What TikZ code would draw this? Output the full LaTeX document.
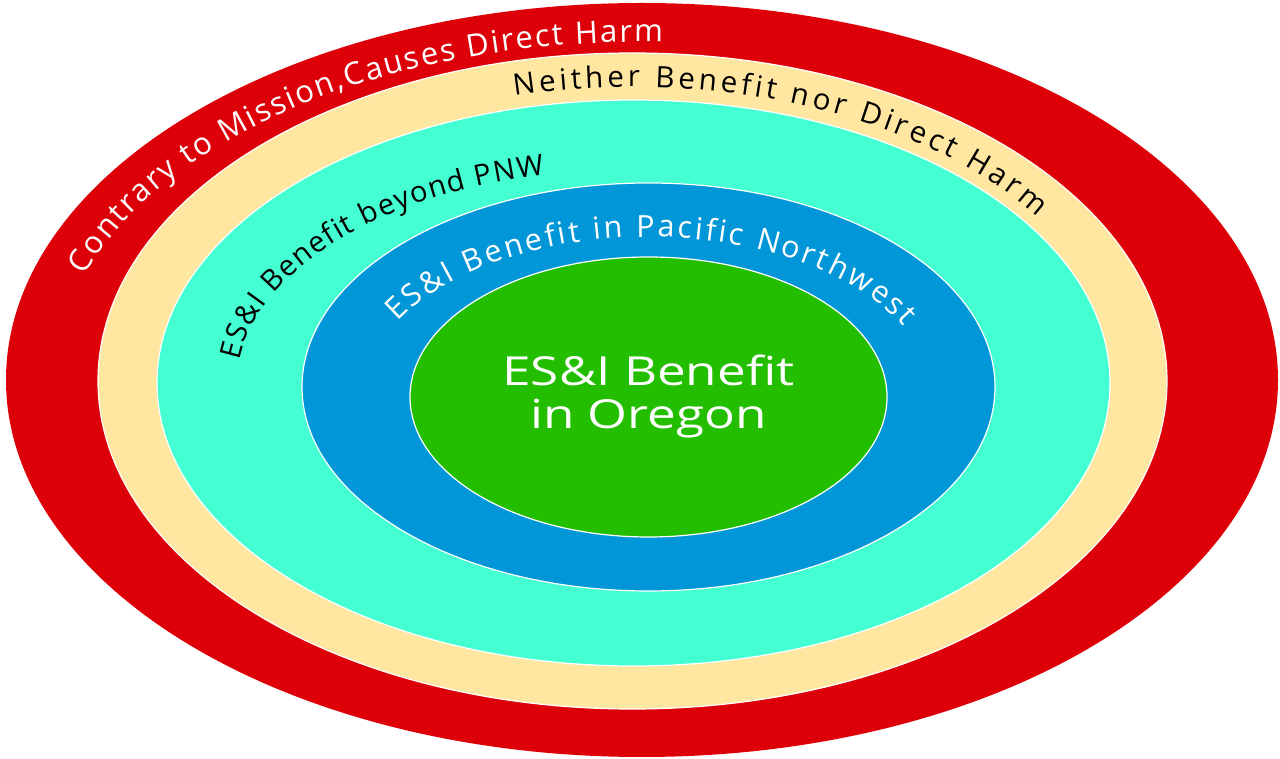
\documentclass[tikz,border=0pt]{standalone}
\usepackage{fontspec}
\setmainfont{Open Sans}
\usetikzlibrary{shapes.geometric, decorations.text}

\definecolor{harmred}{RGB}{221,0,8}
\definecolor{neutraltan}{RGB}{255,230,161}
\definecolor{beyondcyan}{RGB}{68,255,210}
\definecolor{pnwblue}{RGB}{0,150,215}
\definecolor{oregongreen}{RGB}{36,190,0}

\tikzset{
    ring/.style={ellipse, draw=white, line width=1.2pt, inner sep=0pt, outer sep=0pt},
    bandtext/.style 2 args={decorate, decoration={text along path, text align=fit to path, text color=#1, text={#2}}}
}

\begin{document}
\begin{tikzpicture}[x=1pt, y=1pt]
    \useasboundingbox (0,0) rectangle (1280,758);

    % Define rings
    \node[ring, draw=none, fill=harmred, minimum width=1272pt, minimum height=754pt] (harm) at (642,378) {};
    \node[ring, fill=neutraltan, minimum width=1069pt, minimum height=656pt] (neutral) at (632.5,377) {};
    \node[ring, fill=beyondcyan, minimum width=953pt, minimum height=566pt] (beyond) at (633.5,375) {};
    \node[ring, fill=pnwblue, minimum width=693pt, minimum height=408pt] (pnw) at (648.5,371) {};
    \node[ring, fill=oregongreen, minimum width=477pt, minimum height=280pt] (oregon) at (648.5,361) {};

    % Draw band labels
    \path[bandtext={white}{|\fontsize{31}{31}\selectfont|Contrary to Mission,Causes Direct Harm}]
        (harm.center) ++(162:586pt and 338pt) arc[start angle=162, end angle=88, x radius=586pt, y radius=338pt];
    \path[bandtext={black}{|\fontsize{29.5}{29.5}\selectfont|Neither Benefit nor Direct Harm}]
        (neutral.center) ++(104:488pt and 294pt) arc[start angle=104, end angle=34, x radius=488pt, y radius=294pt];
    \path[bandtext={black}{|\fontsize{29}{29}\selectfont|ES{\&}I Benefit beyond PNW}]
        (beyond.center) ++(174:396pt and 214pt) arc[start angle=174, end angle=103, x radius=396pt, y radius=214pt];
    \path[bandtext={white}{|\fontsize{30.5}{30.5}\selectfont|ES{\&}I Benefit in Pacific Northwest}]
        (oregon.center) ++(152:284pt and 160pt) arc[start angle=152, end angle=26, x radius=284pt, y radius=160pt];

    % Centre label
    \node[text=white, font=\fontsize{40}{43}\selectfont, align=center, xscale=1.28] (label) at (oregon.center) {ES\&I Benefit\\in Oregon};
\end{tikzpicture}
\end{document}
